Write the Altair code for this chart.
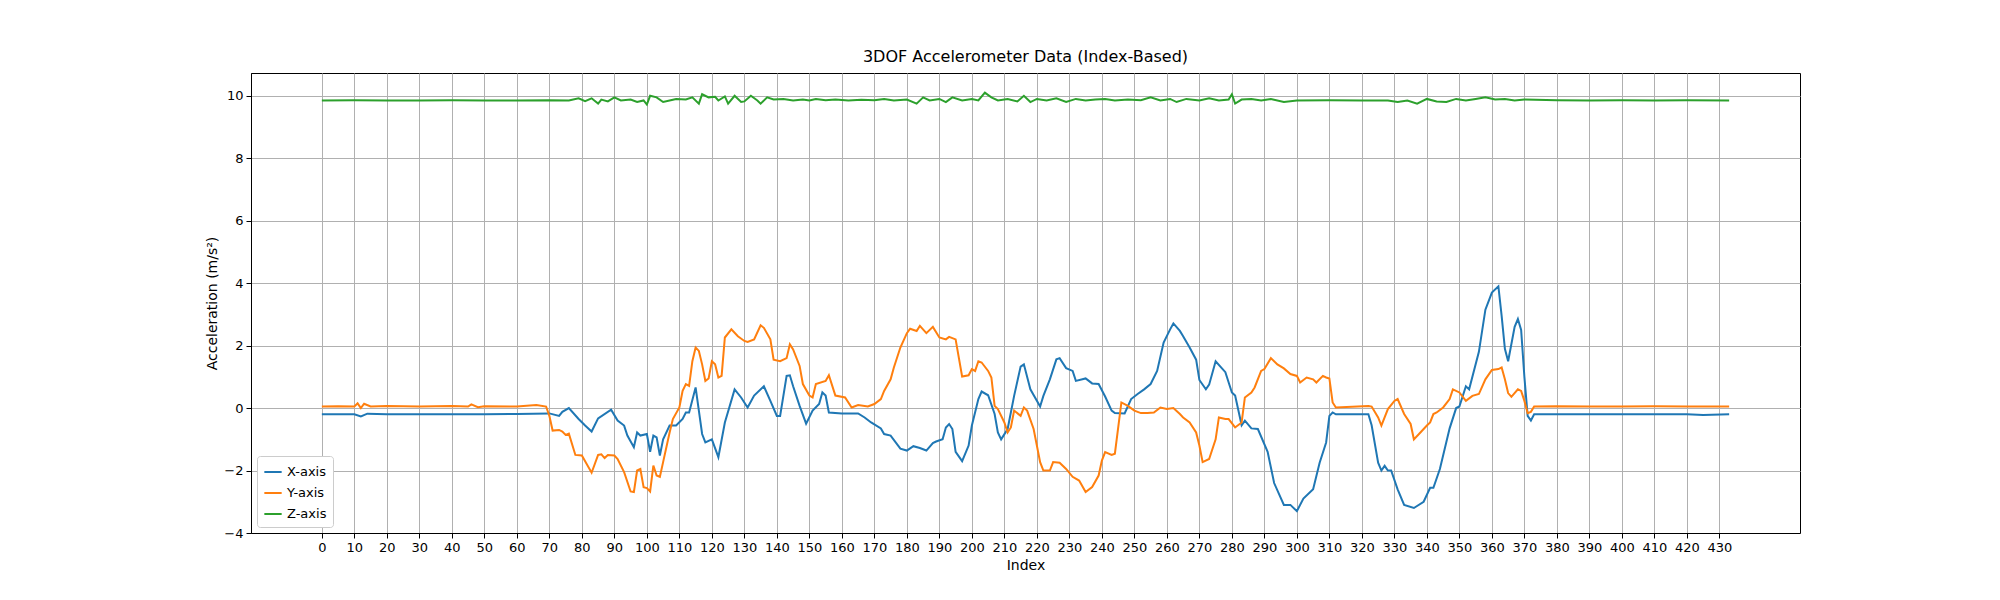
import altair as alt
import pandas as pd

# X-axis readings (index, value)
x_idx = [0, 5, 10, 12, 14, 20, 30, 40, 50, 60, 65, 70, 73, 74, 76, 79, 81, 83, 85, 89, 91, 93, 94, 96, 97, 98,
         100, 101, 102, 103, 104, 105, 107, 109, 111, 112, 113, 115, 117, 118, 120, 122, 124, 127, 129, 131, 133,
         136, 138, 140, 141, 143, 144, 145, 147, 149, 151, 153, 154, 155, 156, 160, 165, 167, 169, 172, 173, 175,
         178, 180, 182, 184, 186, 188, 189, 191, 192, 193, 194, 195, 197, 199, 200, 202, 203, 205, 207, 208, 209,
         211, 213, 215, 216, 218, 221, 222, 224, 226, 227, 229, 231, 232, 235, 237, 239, 241, 243, 244, 247, 249,
         251, 253, 255, 257, 259, 261, 262, 264, 265, 267, 269, 270, 272, 273, 275, 278, 280, 281, 283, 284, 286,
         288, 291, 293, 296, 298, 300, 302, 305, 307, 309, 310, 311, 312, 322, 323, 325, 326, 327, 328, 329, 331,
         333, 336, 339, 341, 342, 344, 347, 349, 350, 352, 353, 356, 358, 360, 362, 363, 364, 365, 367, 368, 369,
         370, 371, 372, 373, 380, 390, 400, 410, 420, 425, 433]
x_val = [-0.2, -0.2, -0.2, -0.27, -0.18, -0.2, -0.2, -0.2, -0.2, -0.19, -0.18, -0.17, -0.25, -0.12, 0.0, -0.35,
         -0.56, -0.75, -0.33, -0.05, -0.4, -0.56, -0.88, -1.25, -0.78, -0.88, -0.83, -1.4, -0.88, -0.94, -1.52,
         -1.0, -0.56, -0.56, -0.35, -0.14, -0.14, 0.66, -0.83, -1.1, -1.0, -1.57, -0.46, 0.6, 0.34, 0.02, 0.4,
         0.7, 0.23, -0.25, -0.25, 1.03, 1.05, 0.7, 0.07, -0.5, -0.08, 0.13, 0.5, 0.4, -0.14, -0.17, -0.17, -0.3,
         -0.46, -0.65, -0.83, -0.88, -1.3, -1.36, -1.22, -1.28, -1.36, -1.12, -1.07, -1.0, -0.62, -0.51, -0.67,
         -1.4, -1.7, -1.2, -0.56, 0.29, 0.53, 0.41, -0.19, -0.78, -1.0, -0.67, 0.39, 1.33, 1.4, 0.6, 0.05, 0.39,
         0.92, 1.56, 1.6, 1.28, 1.19, 0.87, 0.95, 0.79, 0.77, 0.37, -0.08, -0.16, -0.17, 0.29, 0.45, 0.6, 0.77,
         1.19, 2.1, 2.52, 2.71, 2.47, 2.3, 1.94, 1.55, 0.9, 0.6, 0.75, 1.5, 1.15, 0.5, 0.4, -0.55, -0.4, -0.65,
         -0.67, -1.4, -2.4, -3.1, -3.1, -3.3, -2.9, -2.6, -1.75, -1.1, -0.25, -0.14, -0.2, -0.2, -0.55, -1.75,
         -2.0, -1.85, -2.0, -2.0, -2.6, -3.1, -3.2, -3.0, -2.55, -2.55, -1.95, -0.65, 0.0, 0.05, 0.7, 0.6, 1.8,
         3.15, 3.7, 3.9, 2.95, 1.9, 1.5, 2.6, 2.85, 2.5, 1.0, -0.25, -0.4, -0.2, -0.2, -0.2, -0.2, -0.2, -0.2,
         -0.22, -0.2]

# Y-axis readings (index, value)
y_idx = [0, 5, 10, 11, 12, 13, 15, 20, 30, 40, 45, 46, 48, 50, 60, 66, 69, 70, 71, 73, 74, 75, 76, 78, 80, 83,
         85, 86, 87, 88, 90, 91, 93, 95, 96, 97, 98, 99, 100, 101, 102, 103, 104, 105, 107, 108, 110, 111, 112,
         113, 114, 115, 116, 117, 118, 119, 120, 121, 122, 123, 124, 126, 128, 130, 131, 133, 135, 136, 138, 139,
         141, 143, 144, 145, 147, 148, 150, 151, 152, 155, 156, 158, 161, 163, 165, 168, 170, 172, 173, 175, 176,
         178, 180, 181, 183, 184, 186, 188, 190, 192, 193, 195, 197, 199, 200, 201, 202, 203, 205, 206, 207, 208,
         210, 211, 212, 213, 215, 216, 217, 219, 221, 222, 224, 225, 227, 229, 231, 233, 235, 237, 239, 240, 241,
         243, 244, 246, 248, 250, 252, 254, 256, 258, 260, 262, 264, 265, 267, 269, 270, 271, 273, 275, 276, 278,
         279, 281, 283, 284, 286, 287, 289, 290, 292, 294, 296, 298, 300, 301, 303, 305, 306, 308, 309, 310, 311,
         312, 322, 323, 325, 326, 328, 330, 331, 333, 335, 336, 338, 340, 341, 342, 343, 345, 347, 348, 350, 352,
         354, 356, 358, 360, 362, 363, 364, 365, 366, 368, 369, 370, 371, 372, 373, 380, 390, 400, 410, 420, 433]
y_val = [0.05, 0.06, 0.05, 0.15, 0.0, 0.14, 0.05, 0.07, 0.05, 0.07, 0.05, 0.12, 0.03, 0.06, 0.05, 0.1, 0.05,
         -0.25, -0.72, -0.7, -0.75, -0.86, -0.82, -1.5, -1.52, -2.07, -1.5, -1.48, -1.6, -1.5, -1.52, -1.63,
         -2.05, -2.67, -2.69, -2.0, -1.95, -2.53, -2.56, -2.67, -1.84, -2.16, -2.2, -1.73, -0.78, -0.35, 0.02,
         0.55, 0.77, 0.71, 1.5, 1.94, 1.83, 1.4, 0.87, 0.95, 1.5, 1.4, 0.98, 1.03, 2.26, 2.52, 2.3, 2.15, 2.12,
         2.2, 2.65, 2.57, 2.2, 1.55, 1.5, 1.6, 2.04, 1.88, 1.35, 0.77, 0.4, 0.34, 0.77, 0.87, 1.05, 0.4, 0.34,
         0.02, 0.1, 0.05, 0.13, 0.29, 0.55, 0.92, 1.3, 1.94, 2.4, 2.54, 2.47, 2.63, 2.4, 2.6, 2.26, 2.2, 2.28,
         2.2, 1.01, 1.05, 1.25, 1.19, 1.5, 1.46, 1.19, 0.98, 0.07, -0.03, -0.46, -0.78, -0.62, -0.08, -0.25, 0.02,
         -0.08, -0.67, -1.73, -2.0, -2.0, -1.73, -1.75, -1.95, -2.2, -2.32, -2.69, -2.53, -2.16, -1.68, -1.41,
         -1.5, -1.46, 0.18, 0.07, -0.08, -0.16, -0.16, -0.14, 0.02, -0.03, 0.0, -0.19, -0.3, -0.46, -0.78, -1.2,
         -1.73, -1.63, -1.0, -0.3, -0.35, -0.35, -0.62, -0.46, 0.34, 0.5, 0.66, 1.19, 1.25, 1.6, 1.4, 1.27, 1.09,
         1.03, 0.82, 0.98, 0.92, 0.82, 1.03, 0.98, 0.95, 0.18, 0.02, 0.07, 0.05, -0.3, -0.56, -0.03, 0.23, 0.29,
         -0.19, -0.51, -1.0, -0.78, -0.56, -0.46, -0.19, -0.14, 0.02, 0.29, 0.6, 0.5, 0.23, 0.39, 0.45, 0.92,
         1.22, 1.25, 1.3, 0.92, 0.48, 0.36, 0.6, 0.55, 0.23, -0.16, -0.12, 0.05, 0.06, 0.05, 0.05, 0.06, 0.05,
         0.05]

# Z-axis readings (index, value)
z_idx = [0, 10, 20, 30, 40, 50, 60, 70, 76, 79, 81, 83, 85, 86, 88, 90, 92, 95, 97, 99, 100, 101, 103, 105, 107,
         109, 112, 114, 116, 117, 119, 121, 122, 124, 125, 127, 129, 130, 132, 134, 135, 137, 139, 142, 145, 148,
         150, 152, 155, 158, 162, 166, 170, 173, 176, 180, 183, 185, 187, 190, 192, 194, 197, 200, 202, 204, 206,
         208, 211, 214, 216, 218, 220, 223, 226, 229, 232, 235, 238, 241, 244, 248, 252, 255, 258, 261, 263, 266,
         270, 273, 276, 279, 280, 281, 283, 286, 289, 292, 296, 300, 310, 320, 328, 331, 334, 337, 340, 343, 346,
         349, 352, 355, 358, 361, 364, 367, 370, 380, 390, 400, 410, 420, 433]
z_val = [9.85, 9.86, 9.85, 9.85, 9.86, 9.85, 9.85, 9.86, 9.85, 9.92, 9.83, 9.92, 9.75, 9.88, 9.82, 9.95, 9.85,
         9.88, 9.8, 9.85, 9.72, 10.0, 9.95, 9.8, 9.85, 9.9, 9.88, 9.95, 9.75, 10.05, 9.95, 9.97, 9.85, 9.98,
         9.75, 10.0, 9.8, 9.82, 10.0, 9.85, 9.75, 9.95, 9.88, 9.9, 9.85, 9.88, 9.85, 9.9, 9.86, 9.88, 9.85, 9.87,
         9.86, 9.9, 9.85, 9.88, 9.75, 9.95, 9.85, 9.9, 9.8, 9.95, 9.85, 9.9, 9.85, 10.1, 9.95, 9.85, 9.9, 9.82,
         10.0, 9.8, 9.9, 9.85, 9.92, 9.8, 9.9, 9.85, 9.88, 9.9, 9.85, 9.88, 9.86, 9.95, 9.85, 9.9, 9.8, 9.9,
         9.85, 9.92, 9.85, 9.88, 10.05, 9.75, 9.88, 9.9, 9.85, 9.9, 9.8, 9.85, 9.86, 9.85, 9.85, 9.8, 9.85,
         9.75, 9.9, 9.82, 9.8, 9.9, 9.85, 9.9, 9.95, 9.88, 9.9, 9.85, 9.88, 9.86, 9.85, 9.86, 9.85, 9.86, 9.85]

series_names = ["X-axis", "Y-axis", "Z-axis"]
series_colors = ["#1f77b4", "#ff7f0e", "#2ca02c"]
x_ticks = list(range(0, 431, 10))
y_ticks = list(range(-4, 11, 2))

df = pd.concat([
    pd.DataFrame({"Index": x_idx, "value": x_val, "series": "X-axis"}),
    pd.DataFrame({"Index": y_idx, "value": y_val, "series": "Y-axis"}),
    pd.DataFrame({"Index": z_idx, "value": z_val, "series": "Z-axis"}),
])

font = "DejaVu Sans"

chart = (
    alt.Chart(df)
    .mark_line(strokeWidth=2, clip=True)
    .encode(
        x=alt.X("Index:Q", title="Index",
                scale=alt.Scale(domain=[-21.8, 454.8], nice=False, zero=False),
                axis=alt.Axis(values=x_ticks, grid=True, gridColor="#b0b0b0", gridWidth=1,
                              tickColor="black", domainColor="black", labelColor="black",
                              labelFontSize=13, titleFontSize=14, titleFontWeight="normal",
                              titleColor="black", labelFont=font, titleFont=font,
                              labelFlush=False, tickSize=5, labelPadding=3)),
        y=alt.Y("value:Q", title="Acceleration (m/s²)",
                scale=alt.Scale(domain=[-4, 10.73], nice=False, zero=False),
                axis=alt.Axis(values=y_ticks, grid=True, gridColor="#b0b0b0", gridWidth=1,
                              tickColor="black", domainColor="black", labelColor="black",
                              labelFontSize=13, titleFontSize=14, titleFontWeight="normal",
                              titleColor="black", labelFont=font, titleFont=font,
                              tickSize=5, labelPadding=3)),
        color=alt.Color("series:N", title=None,
                        scale=alt.Scale(domain=series_names, range=series_colors),
                        legend=alt.Legend(orient="bottom-left", symbolType="stroke",
                                          symbolStrokeWidth=2, symbolSize=300,
                                          labelFontSize=13, labelFont=font, labelColor="black",
                                          fillColor="white", strokeColor="#cccccc",
                                          cornerRadius=3, padding=6, offset=6, rowPadding=4)),
        detail="series:N",
    )
    .properties(
        width=1549, height=460,
        autosize=alt.AutoSizeParams(type="none"),
        padding={"left": 243, "top": 65, "right": 192, "bottom": 59},
        title=alt.TitleParams("3DOF Accelerometer Data (Index-Based)", fontSize=16,
                              fontWeight="normal", font=font, color="black", offset=8),
    )
    .configure_view(stroke="black", strokeWidth=1)
)

chart.save("out.html", embed_options={"renderer": "svg", "actions": False})
